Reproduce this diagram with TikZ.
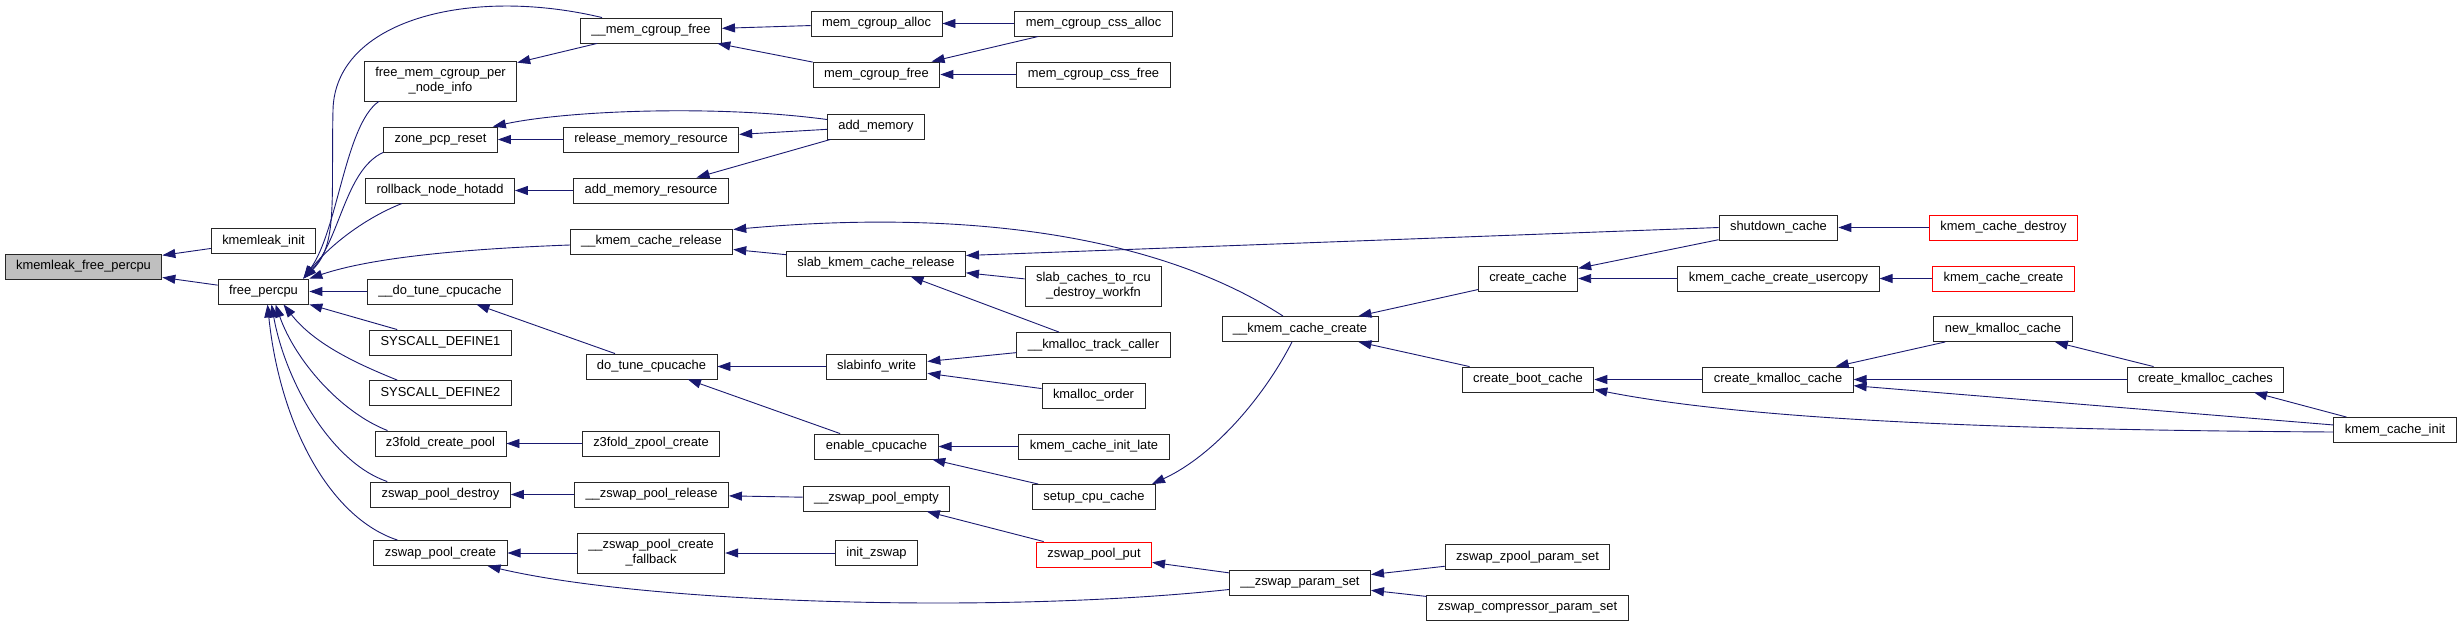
\documentclass[tikz,border=0pt]{standalone}
\usepackage{fontspec}
\setmainfont{Liberation Sans}
\usepackage{xcolor}
\usepackage{tikz}
\usetikzlibrary{arrows.meta,calc}
\definecolor{edgeblue}{HTML}{191970}

\begin{document}
\begin{tikzpicture}[x=1pt,y=-1pt,
   >={Triangle[length=13pt,width=9pt]},
   func/.style={draw=black!85,line width=0.9pt,inner xsep=11pt,inner ysep=0pt,minimum height=25pt,
     align=center,font=\fontsize{12.9}{15}\selectfont},
   functwo/.style={func,minimum height=40pt},
   funcred/.style={func,draw=red},
   calls/.style={->,edgeblue,line width=0.9pt}]
  \useasboundingbox (0,0) rectangle (2463,627);
  \node[func,fill=black!25] (kfp) at (83.5,266.5) {kmemleak\_free\_percpu};
  \node[func] (kinit) at (263.5,241) {kmemleak\_init};
  \node[func] (fpc) at (263.5,291.5) {free\_percpu};
  \node[func] (mcgf) at (651,30.5) {\_\_mem\_cgroup\_free};
  \node[functwo] (fmcg) at (440.5,81) {free\_mem\_cgroup\_per\\\_node\_info};
  \node[func] (zpr) at (440.5,139.5) {zone\_pcp\_reset};
  \node[func] (rnh) at (440,190.5) {rollback\_node\_hotadd};
  \node[func] (dtc) at (440,291.5) {\_\_do\_tune\_cpucache};
  \node[func] (sd1) at (440.5,342.5) {SYSCALL\_DEFINE1};
  \node[func] (sd2) at (440.5,393) {SYSCALL\_DEFINE2};
  \node[func] (z3c) at (440.5,443.5) {z3fold\_create\_pool};
  \node[func] (zpd) at (440.5,494.5) {zswap\_pool\_destroy};
  \node[func] (zpc) at (440.5,553) {zswap\_pool\_create};
  \node[func] (rmr) at (651,139.5) {release\_memory\_resource};
  \node[func] (amr) at (651,190.5) {add\_memory\_resource};
  \node[func] (kcr) at (651.5,241.5) {\_\_kmem\_cache\_release};
  \node[func] (tc) at (651.5,366.5) {do\_tune\_cpucache};
  \node[func] (z3z) at (651,443.5) {z3fold\_zpool\_create};
  \node[func] (zprl) at (651.5,494.5) {\_\_zswap\_pool\_release};
  \node[functwo] (zpcf) at (651,553) {\_\_zswap\_pool\_create\\\_fallback};
  \node[func] (mca) at (876.5,23.5) {mem\_cgroup\_alloc};
  \node[func] (mcf) at (876.5,74.5) {mem\_cgroup\_free};
  \node[func] (am) at (876,126.5) {add\_memory};
  \node[func] (skr) at (876,263.5) {slab\_kmem\_cache\_release};
  \node[func] (sw) at (876.5,366.5) {slabinfo\_write};
  \node[func] (ec) at (876.5,446.5) {enable\_cpucache};
  \node[func] (zpe) at (876.5,498.5) {\_\_zswap\_pool\_empty};
  \node[func] (iz) at (876.5,553) {init\_zswap};
  \node[func] (mcsa) at (1093.5,23.5) {mem\_cgroup\_css\_alloc};
  \node[func] (mcsf) at (1093.5,74.5) {mem\_cgroup\_css\_free};
  \node[functwo] (scr) at (1093.5,286) {slab\_caches\_to\_rcu\\\_destroy\_workfn};
  \node[func] (ktc) at (1093.5,345) {\_\_kmalloc\_track\_caller};
  \node[func] (ko) at (1093.5,395.5) {kmalloc\_order};
  \node[func] (kcil) at (1094,446.5) {kmem\_cache\_init\_late};
  \node[func] (scc) at (1094,497) {setup\_cpu\_cache};
  \node[funcred] (zpp) at (1094,554.5) {zswap\_pool\_put};
  \node[func] (kcc) at (1300,329) {\_\_kmem\_cache\_create};
  \node[func] (zps) at (1300,582.5) {\_\_zswap\_param\_set};
  \node[func] (cc) at (1528,278.5) {create\_cache};
  \node[func] (cbc) at (1528,379.5) {create\_boot\_cache};
  \node[func] (zzp) at (1527.5,557) {zswap\_zpool\_param\_set};
  \node[func] (zcp) at (1527.5,607.5) {zswap\_compressor\_param\_set};
  \node[func] (sc) at (1778.5,227.5) {shutdown\_cache};
  \node[func] (kccu) at (1778.5,278.5) {kmem\_cache\_create\_usercopy};
  \node[func] (ckc) at (1778,379.5) {create\_kmalloc\_cache};
  \node[funcred] (kcd) at (2003.5,227.5) {kmem\_cache\_destroy};
  \node[funcred] (kcrt) at (2003.5,278.5) {kmem\_cache\_create};
  \node[func] (nkc) at (2003,329) {new\_kmalloc\_cache};
  \node[func] (ckcs) at (2205.5,379.5) {create\_kmalloc\_caches};
  \node[func] (kci) at (2395,430) {kmem\_cache\_init};
  \draw[calls] (kinit) -- (kfp);
  \draw[calls] (fpc) -- (kfp);
  \draw[calls] ($(mcgf.north west)+(22,0)$) .. controls (470,-14) and (335,20) .. (333,110)
     .. controls (331,200) and (338,245) .. ($(fpc.north east)+(-6,0)$);
  \draw[calls] ($(fmcg.south west)+(15,0)$) .. controls (345,125) and (338,230) .. ($(fpc.north east)+(-6,0)$);
  \draw[calls] (zpr.south west) .. controls (345,170) and (340,240) .. ($(fpc.north east)+(-6,0)$);
  \draw[calls] ($(rnh.south west)+(37,0)$) .. controls (365,218) and (330,245) .. ($(fpc.north east)+(-6,0)$);
  \draw[calls] ($(kcr.west)+(0,3.5)$) .. controls (460,249) and (370,258) .. (fpc.north east);
  \draw[calls] (dtc) -- (fpc);
  \draw[calls] ($(sd1.north west)+(28,0)$) -- (fpc.south east);
  \draw[calls] ($(sd2.north west)+(28,0)$) .. controls (360,365) and (315,345) .. ($(fpc.south)+(20,0)$);
  \draw[calls] ($(z3c.north west)+(13,0)$) .. controls (340,412) and (295,360) .. ($(fpc.south)+(12,0)$);
  \draw[calls] ($(zpd.north west)+(17,0)$) .. controls (330,462) and (285,380) .. ($(fpc.south)+(8,0)$);
  \draw[calls] ($(zpc.north west)+(24,0)$) .. controls (330,518) and (280,425) .. ($(fpc.south)+(4,0)$);
  \draw[calls] (mcgf) -- (fmcg);
  \draw[calls] (mca) -- (mcgf);
  \draw[calls] (mcf) -- (mcgf);
  \draw[calls] (mcsa) -- (mca);
  \draw[calls] (mcsa) -- (mcf);
  \draw[calls] (mcsf) -- (mcf);
  \draw[calls] (rmr) -- (zpr);
  \draw[calls] ($(am.west)+(0,-7)$) .. controls (720,105) and (570,110) .. ($(zpr.north east)+(-5,0)$);
  \draw[calls] (am) -- (rmr);
  \draw[calls] (am) -- (amr);
  \draw[calls] (amr) -- (rnh);
  \draw[calls] (skr) -- (kcr);
  \draw[calls] ($(kcc.north)+(-17,0)$) .. controls (1150,230) and (950,210) .. ($(kcr.east)+(0,-12)$);
  \draw[calls] (sc.west) -- ($(skr.east)+(0,-8)$);
  \draw[calls] (scr) -- (skr);
  \draw[calls] (ktc) -- (skr);
  \draw[calls] (sw) -- (tc);
  \draw[calls] (tc) -- (dtc);
  \draw[calls] (ktc) -- (sw);
  \draw[calls] (ko) -- (sw);
  \draw[calls] (ec) -- (tc);
  \draw[calls] (kcil) -- (ec);
  \draw[calls] (scc) -- (ec);
  \draw[calls] ($(kcc.south)+(-8,0)$) .. controls (1265,395) and (1215,455) .. ($(scc.north east)+(-4,0)$);
  \draw[calls] (z3z) -- (z3c);
  \draw[calls] (zprl) -- (zpd);
  \draw[calls] (zpe) -- (zprl);
  \draw[calls] (zpp) -- (zpe);
  \draw[calls] (zpcf) -- (zpc);
  \draw[calls] (iz) -- (zpcf);
  \draw[calls] ($(zps.west)+(0,7)$) .. controls (1000,614) and (650,604) .. ($(zpc.south east)+(-20,0)$);
  \draw[calls] (zps) -- (zpp);
  \draw[calls] (zzp) -- (zps);
  \draw[calls] (zcp) -- (zps);
  \draw[calls] (cc) -- (kcc);
  \draw[calls] (cbc) -- (kcc);
  \draw[calls] (sc) -- (cc);
  \draw[calls] (kccu) -- (cc);
  \draw[calls] (kcd) -- (sc);
  \draw[calls] (kcrt) -- (kccu);
  \draw[calls] (ckc) -- (cbc);
  \draw[calls] ($(kci.west)+(0,2)$) .. controls (2000,430) and (1750,420) .. ($(cbc.east)+(0,10)$);
  \draw[calls] (nkc) -- (ckc);
  \draw[calls] (ckcs) -- (ckc);
  \draw[calls] (kci) -- (ckc);
  \draw[calls] (ckcs) -- (nkc);
  \draw[calls] (kci) -- (ckcs);
\end{tikzpicture}
\end{document}
